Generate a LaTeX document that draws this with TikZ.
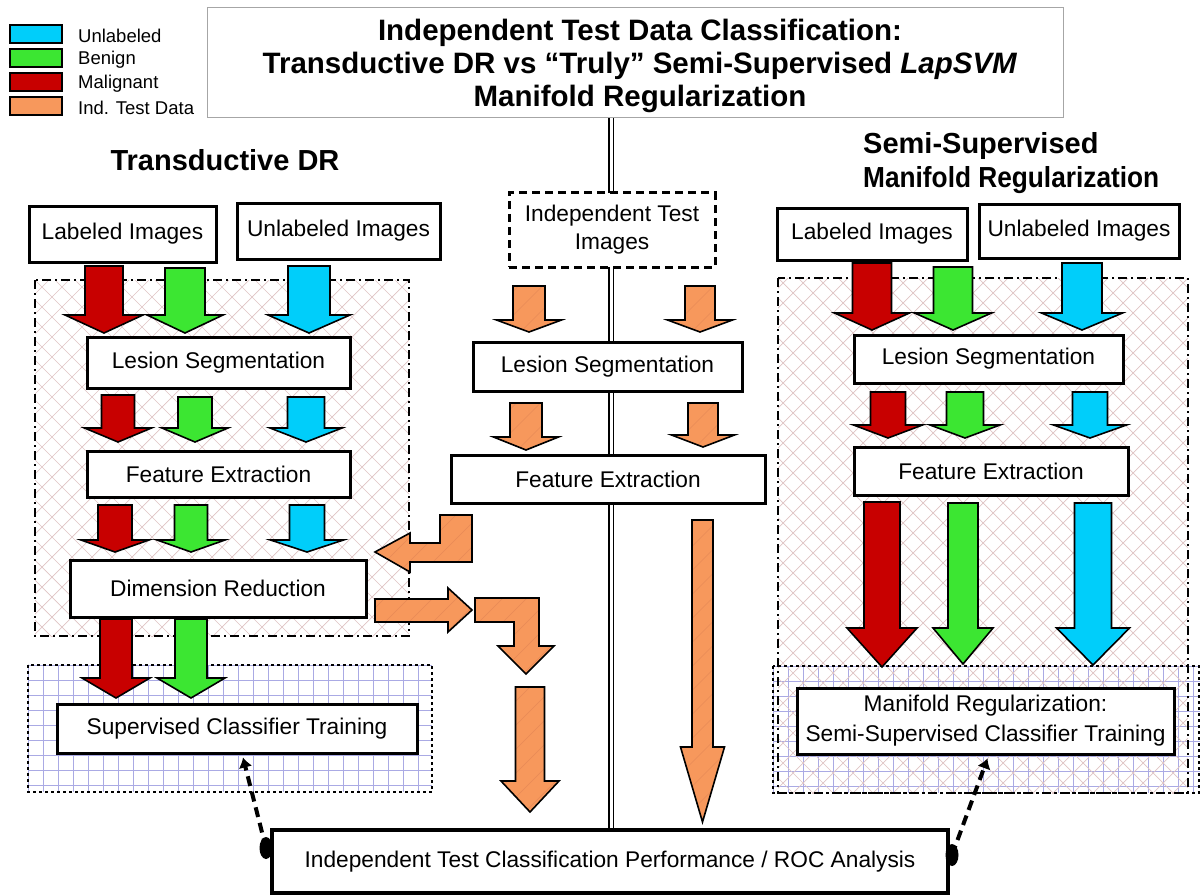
\documentclass[tikz,border=0pt]{standalone}
\usepackage{fontspec}
\usepackage{graphicx}
\setmainfont{Liberation Sans}
\usetikzlibrary{arrows.meta}
\definecolor{cred}{RGB}{200,0,0}
\definecolor{cgreen}{RGB}{60,230,50}
\definecolor{ccyan}{RGB}{0,206,250}
\definecolor{corange}{RGB}{247,152,92}
\definecolor{ohatch}{RGB}{232,138,86}
\definecolor{hatchc}{RGB}{224,196,196}
\definecolor{gridc}{RGB}{170,170,228}
\tikzset{
  box/.style={draw=black, line width=3pt, fill=white, inner sep=0pt, align=center,
    font=\fontsize{22.7}{28}\selectfont},
  blk/.style={draw=black, line width=1.6pt, line join=miter},
  orangeblk/.style={blk, fill=corange, path picture={
      \foreach \k in {-432,-408,...,120}
        \draw[ohatch, line width=0.5pt] ([xshift=\k pt]path picture bounding box.south west) -- ++(432pt,432pt);}},
  hatchline/.style={draw=hatchc, line width=0.7pt},
  gridline/.style={draw=gridc, line width=0.7pt},
  dashdotframe/.style={draw=black, line width=1.6pt, dash pattern=on 9pt off 4pt on 2pt off 4pt},
  dotframe/.style={draw=black, line width=1.8pt, dash pattern=on 3pt off 3pt},
  swatch/.style={draw=black, line width=2pt, minimum width=52pt, minimum height=18pt, inner sep=0pt},
  legtext/.style={anchor=west, inner sep=0pt, font=\fontsize{18.5}{22}\selectfont},
  heading/.style={inner sep=0pt, font=\fontsize{29}{34}\selectfont\bfseries},
  link/.style={draw=black, line width=4pt, dash pattern=on 10pt off 6pt, -{Latex[length=10pt,width=14pt]}},
}
\newcommand\blockdown[7]{\filldraw[blk, fill=#7] ({#1-#3},#2) -- ({#1+#3},#2) -- ({#1+#3},#5) -- ({#1+#4},#5) -- (#1,#6) -- ({#1-#4},#5) -- ({#1-#3},#5) -- cycle;}
\newcommand\orangedown[6]{\filldraw[orangeblk] ({#1-#3},#2) -- ({#1+#3},#2) -- ({#1+#3},#5) -- ({#1+#4},#5) -- (#1,#6) -- ({#1-#4},#5) -- ({#1-#3},#5) -- cycle;}
\newcommand\hatchregion[4]{%
  \begin{scope}
    \clip (#1,#2) rectangle (#3,#4);
    \foreach \k in {-600,-580,...,600} {
      \draw[hatchline] ({#1+\k},#2) -- ++(600,600);
      \draw[hatchline] ({#3-\k},#2) -- ++(-600,600);
    }
  \end{scope}}
\newcommand\gridregion[4]{%
  \begin{scope}
    \clip (#1,#2) rectangle (#3,#4);
    \fill[white] (#1,#2) rectangle (#3,#4);
    \foreach \k in {0,15,...,450} {
      \draw[gridline] ({#1+\k},#2) -- ({#1+\k},#4);
      \draw[gridline] (#1,{#2+\k}) -- (#3,{#2+\k});
    }
  \end{scope}}
\begin{document}
\begin{tikzpicture}[x=1pt,y=-1pt]
\useasboundingbox (0,0) rectangle (1201,896);
\fill[white] (0,0) rectangle (1201,896);

% ---------- legend ----------
\node[swatch, fill=ccyan] (sw1) at (36,34) {};
\node[swatch, fill=cgreen] (sw2) at (36,58) {};
\node[swatch, fill=cred] (sw3) at (36,82) {};
\node[swatch, fill=corange] (sw4) at (36,106) {};
\node[legtext] (lg1) at (78,36) {Unlabeled};
\node[legtext] (lg2) at (78,60) {Benign};
\node[legtext] (lg3) at (78,84) {Malignant};
\node[legtext] (lg4) at (78,108) {Ind. Test Data};

% ---------- background regions ----------
\hatchregion{35}{280}{409}{636}
\draw[dashdotframe] (35,280) rectangle (409,636);
\gridregion{28}{665}{432}{792}
\draw[dotframe] (28,665) rectangle (432,792);
\gridregion{773}{666}{1200}{793}
\hatchregion{778}{278}{1188}{793}
\draw[dashdotframe] (778,278) rectangle (1188,793);
\draw[dotframe] (773,666) rectangle (1199,793);

% ---------- title ----------
\node[draw=black!35, line width=1pt, fill=white, minimum width=856pt, minimum height=110pt,
  inner sep=0pt] (title) at (635,63) {};
\node[inner sep=0pt, align=center, font=\fontsize{29.5}{33}\selectfont\bfseries] (titletext) at (640,66)
  {Independent Test Data Classification:\\Transductive DR vs “Truly” Semi-Supervised \textit{LapSVM}\\Manifold Regularization};

% ---------- centre double line ----------
\coordinate (vtop) at (611,118);
\coordinate (vbot) at (611,828);
\draw[line width=1.3pt, double=white, double distance=3pt] (vtop) -- (vbot);

% ---------- headings ----------
\node[heading] (hl) at (225,160) {Transductive DR};
\node[heading, anchor=west, align=left] (hr) at (863,163)
  {Semi-Supervised\\\scalebox{0.905}[1]{Manifold Regularization}};

% ---------- left column ----------
\node[box, minimum width=187pt, minimum height=56pt] (lab1) at (122.5,234) {Labeled Images};
\node[box, minimum width=203pt, minimum height=56pt] (unl1) at (338.5,231) {Unlabeled Images};
\node[box, minimum width=263pt, minimum height=51pt] (les1) at (218.5,362.5) {Lesion Segmentation};
\node[box, minimum width=263pt, minimum height=46pt] (fea1) at (218.5,474) {Feature Extraction};
\node[box, minimum width=296pt, minimum height=57pt] (dim1) at (218,588.5) {Dimension Reduction};
\node[box, minimum width=360pt, minimum height=49pt] (sup1) at (237,728.5) {Supervised Classifier Training};

\blockdown{104}{266}{19}{39}{315}{333}{cred}
\blockdown{185}{268}{20}{38}{315}{333}{cgreen}
\blockdown{309}{266}{21}{41}{315}{333}{ccyan}
\blockdown{118}{395}{16.5}{33.5}{428}{442}{cred}
\blockdown{195}{397}{17}{33}{428}{442}{cgreen}
\blockdown{306}{397}{18.5}{36}{428}{442}{ccyan}
\blockdown{115}{505}{17}{34}{540}{552}{cred}
\blockdown{191}{505}{16.5}{34}{540}{552}{cgreen}
\blockdown{307}{505}{17.5}{36.5}{540}{552}{ccyan}
\blockdown{116}{619}{16}{34}{678}{698}{cred}
\blockdown{191}{619}{16}{34}{678}{698}{cgreen}

% ---------- middle column ----------
\node[box, dash pattern=on 8pt off 5pt, minimum width=206pt, minimum height=74pt] (ind) at (612,230)
  {Independent Test\\Images};
\node[box, minimum width=269pt, minimum height=49pt] (les2) at (607.5,366.5) {Lesion Segmentation};
\node[box, minimum width=314pt, minimum height=48pt] (fea2) at (608,479) {Feature Extraction};

\orangedown{529}{286}{16}{32.5}{320}{332}
\orangedown{700}{286}{15}{32.5}{320}{332}
\orangedown{526}{403}{16}{32.5}{437}{450}
\orangedown{703}{403}{15}{31.5}{435}{447}

% L-arrow to dimension reduction (pointing left)
\filldraw[orangeblk] (472,515) -- (472,562) -- (410,562) -- (410,572) -- (375,552)
  -- (410,533) -- (410,543) -- (440,543) -- (440,515) -- cycle;
% arrow out of dimension reduction (pointing right)
\filldraw[orangeblk] (375,599) -- (448,599) -- (448,588) -- (472,610) -- (448,632)
  -- (448,622) -- (375,622) -- cycle;
% L-arrow turning down
\filldraw[orangeblk] (475,598) -- (539,598) -- (539,646) -- (554,646) -- (526,674)
  -- (498,646) -- (514,646) -- (514,622) -- (475,622) -- cycle;
% straight down to ROC
\orangedown{530}{687}{14.5}{29}{781}{812}
% long arrow on the right of centre
\orangedown{702.5}{520}{10.5}{22}{747}{822}

% ---------- right column ----------
\node[box, minimum width=190pt, minimum height=52pt] (lab2) at (872,234) {Labeled Images};
\node[box, minimum width=200pt, minimum height=54pt] (unl2) at (1079,231) {Unlabeled Images};
\node[box, minimum width=269pt, minimum height=48pt] (les3) at (988.5,359) {Lesion Segmentation};
\node[box, minimum width=274pt, minimum height=48pt] (fea3) at (991,471) {Feature Extraction};
\node[box, minimum width=377pt, minimum height=66pt,
  font=\fontsize{22.7}{30}\selectfont] (man) at (985.5,721)
  {Manifold Regularization:\\Semi-Supervised Classifier Training};

\blockdown{872}{263}{19.5}{37.5}{313}{330}{cred}
\blockdown{953}{267}{19.5}{38.5}{313}{330}{cgreen}
\blockdown{1082}{263}{20}{40.5}{313}{330}{ccyan}
\blockdown{888}{392}{17.5}{34.5}{425}{438}{cred}
\blockdown{965}{392}{18.5}{35}{425}{438}{cgreen}
\blockdown{1090}{392}{17.5}{36.5}{425}{438}{ccyan}
\blockdown{882}{502}{18}{35}{628}{667}{cred}
\blockdown{963}{503}{15}{30}{628}{664}{cgreen}
\blockdown{1093}{503}{18.5}{36.5}{628}{665}{ccyan}

% ---------- bottom ----------
\node[box, line width=4pt, minimum width=676pt, minimum height=63pt] (roc) at (610,861.5)
  {Independent Test Classification Performance / ROC Analysis};
\coordinate (dl) at (266,848);
\coordinate (dr) at (952,855);
\draw[link] (dl) -- ([xshift=6pt,yshift=-3pt]sup1.south);
\draw[link] (dr) -- ([xshift=2pt,yshift=-3pt]man.south);
\fill[black] (dl) ellipse (6.5pt and 11pt);
\fill[black] (dr) ellipse (6.5pt and 11pt);
\end{tikzpicture}
\end{document}
